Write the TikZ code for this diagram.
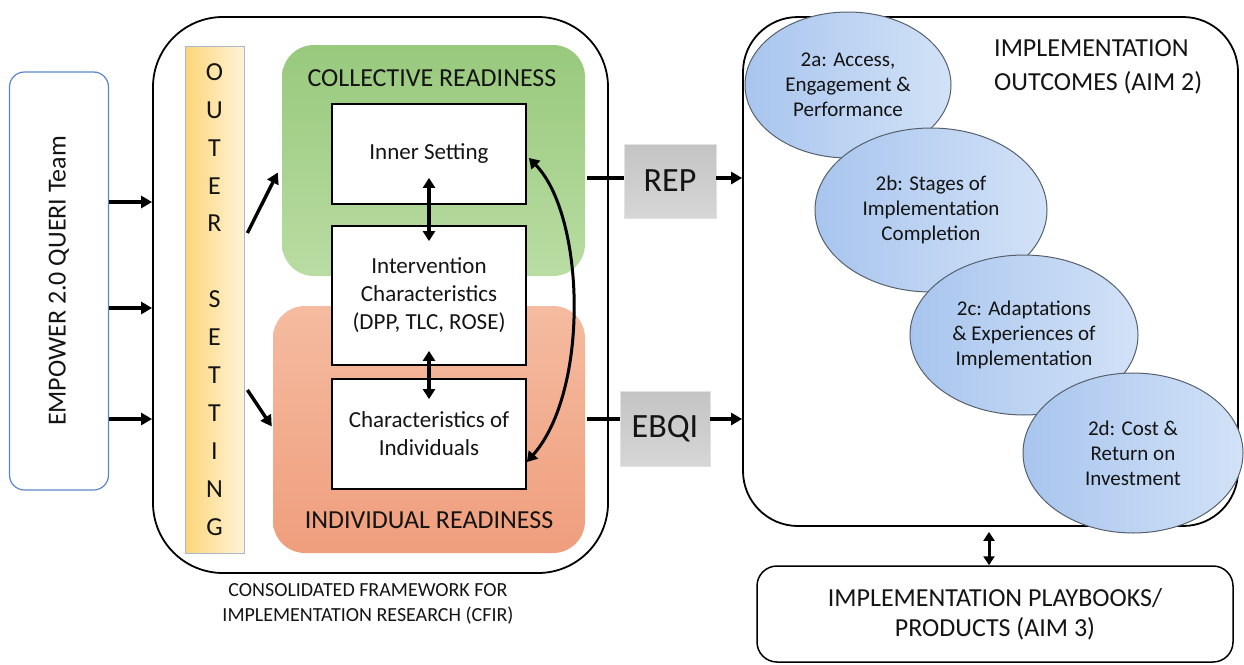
\documentclass[tikz,border=0pt]{standalone}
\usepackage{fontspec}
\setmainfont{Carlito}
\usetikzlibrary{arrows.meta,calc,shapes.geometric}
\definecolor{txt}{HTML}{141414}
\definecolor{empblue}{HTML}{5A86C8}
\definecolor{barA}{HTML}{FDD578}
\definecolor{barB}{HTML}{FEF3D8}
\definecolor{barline}{HTML}{A9B7CC}
\definecolor{grA}{HTML}{98C97C}
\definecolor{grB}{HTML}{B9DCA3}
\definecolor{orA}{HTML}{F5BBA0}
\definecolor{orB}{HTML}{EF9E7D}
\definecolor{elA}{HTML}{A8C5EE}
\definecolor{elB}{HTML}{D2E2F7}
\definecolor{elline}{HTML}{56606C}
\definecolor{gyA}{HTML}{C4C4C4}
\definecolor{gyB}{HTML}{D6D6D6}
\begin{document}
\begin{tikzpicture}[x=1pt,y=-1pt,
  every node/.style={text=txt},
  arr/.style={line width=3.4pt,-{Triangle[length=11pt,width=12pt]}},
  darr/.style={line width=3.4pt,{Triangle[length=10pt,width=12pt]}-{Triangle[length=10pt,width=12pt]}},
  plainline/.style={line width=3.4pt},
  innerbox/.style={draw=black,line width=1.8pt,fill=white,minimum width=194pt,inner sep=0pt,align=center,font=\fontsize{23}{28}\selectfont},
  ell/.style={ellipse,draw=elline,line width=1pt,left color=elA,right color=elB,align=center,inner sep=0pt,font=\fontsize{21}{25}\selectfont},
  graybox/.style={draw=gyA!80!black!30,line width=0.8pt,top color=gyA,bottom color=gyB,inner sep=0pt,font=\fontsize{34}{40}\selectfont},
  bigbox/.style={draw=black,line width=1.8pt,inner sep=0pt},
  letter/.style={font=\fontsize{26}{30}\selectfont,inner sep=0pt}
]
\useasboundingbox (0,0) rectangle (1244,664);

% EMPOWER box
\node[draw=empblue,line width=1.2pt,rounded corners=15pt,minimum width=99pt,minimum height=418pt,inner sep=0pt] (emp) at (59,281) {};
\node[rotate=90,font=\fontsize{26}{30}\selectfont] (emptxt) at (emp.center) {EMPOWER 2.0 QUERI Team};

% CFIR box
\node[bigbox,rounded corners=70pt,minimum width=455pt,minimum height=556pt] (cfir) at (380.5,295) {};
\node[align=center,font=\fontsize{20}{25}\selectfont] (cfirtxt) at (368,604) {CONSOLIDATED FRAMEWORK FOR\\IMPLEMENTATION RESEARCH (CFIR)};

% outer setting bar
\node[draw=barline,line width=0.8pt,left color=barA,right color=barB,minimum width=59pt,minimum height=507pt,inner sep=0pt] (bar) at (214.5,299.5) {};
\foreach \l/\k in {O/0,U/1,T/2,E/3,R/4,S/6,E/7,T/8,T/9,I/10,N/11,G/12}{
  \node[letter] (os\k) at (214.5,{72+37.9*\k}) {\l};
}

% readiness boxes
\node[rounded corners=32pt,top color=grA,bottom color=grB,minimum width=303pt,minimum height=231pt,inner sep=0pt] (green) at (433.5,160.5) {};
\node[rounded corners=32pt,top color=orA,bottom color=orB,minimum width=312pt,minimum height=247pt,inner sep=0pt] (orange) at (429,429.5) {};
\node[font=\fontsize{26}{30}\selectfont] (coltxt) at (432,78) {COLLECTIVE READINESS};
\node[font=\fontsize{26}{30}\selectfont] (indtxt) at (429,520) {INDIVIDUAL READINESS};

% inner boxes
\node[innerbox,minimum height=100pt] (inner) at (429,154) {Inner Setting};
\node[innerbox,minimum height=139pt] (interv) at (429,295.5) {Intervention\\Characteristics\\(DPP, TLC, ROSE)};
\node[innerbox,minimum height=110pt] (indiv) at (429,434) {Characteristics of\\Individuals};

% arrows inside CFIR
\draw[darr] ($(inner.south)+(0,-27)$) -- ($(interv.north)+(0,16)$);
\draw[darr] ($(interv.south)+(0,-15)$) -- ($(indiv.north)+(0,21)$);
\coordinate (cA) at ($(inner.east)+(2,4)$);
\coordinate (cB) at ($(indiv.east)+(0,28)$);
\draw[darr,line width=3pt] (cA) .. controls (585,215) and (590,390) .. (cB);

% outer setting to readiness
\coordinate (o1) at ($(bar.east)+(3,-66.5)$);
\coordinate (g1) at ($(green.west)+(-4,12)$);
\draw[arr] (o1) -- (g1);
\coordinate (o2) at ($(bar.east)+(3,90.5)$);
\coordinate (r2) at ($(orange.west)+(-1,-3)$);
\draw[arr] (o2) -- (r2);

% empower arrows
\coordinate (y1) at (0,202);
\coordinate (y2) at (0,308);
\coordinate (y3) at (0,419);
\draw[arr] (emp.east |- y1) -- (cfir.west |- y1);
\draw[arr] (emp.east |- y2) -- (cfir.west |- y2);
\draw[arr] (emp.east |- y3) -- (cfir.west |- y3);

% outcomes box
\node[bigbox,rounded corners=55pt,minimum width=495pt,minimum height=509pt] (outc) at (990.5,271.5) {};
\node[anchor=west,align=left,font=\fontsize{26}{34}\selectfont,inner sep=0pt] (outtxt) at (994,67) {IMPLEMENTATION\\OUTCOMES (AIM 2)};

% REP / EBQI
\node[graybox,minimum width=92pt,minimum height=74pt] (rep) at (670,181) {REP};
\node[graybox,minimum width=90pt,minimum height=75pt] (ebqi) at (665,428.5) {EBQI};
\coordinate (ry) at (587,178);
\coordinate (ey) at (587,419);
\draw[plainline] (ry) -- (rep.west |- ry);
\draw[arr] (rep.east |- ry) -- (outc.west |- ry);
\draw[plainline] (ey) -- (ebqi.west |- ey);
\draw[arr] (ebqi.east |- ey) -- (outc.west |- ey);

% ellipses
\node[ell,minimum width=206pt,minimum height=146pt] (e2a) at (848,85) {2a: Access,\\Engagement \&\\Performance};
\node[ell,minimum width=232pt,minimum height=164pt] (e2b) at (931,210) {2b: Stages of\\Implementation\\Completion};
\node[ell,minimum width=228pt,minimum height=160pt] (e2c) at (1024,335) {2c: Adaptations\\\& Experiences of\\Implementation};
\node[ell,minimum width=220pt,minimum height=160pt] (e2d) at (1133,453) {2d: Cost \&\\Return on\\Investment};

% playbooks
\node[draw=black,line width=1.5pt,rounded corners=20pt,minimum width=476pt,minimum height=96pt,inner sep=0pt,align=center,font=\fontsize{26}{30}\selectfont] (play) at (995,614) {IMPLEMENTATION PLAYBOOKS/\\PRODUCTS (AIM 3)};
\draw[line width=3pt,{Triangle[length=9pt,width=11pt]}-{Triangle[length=9pt,width=11pt]}] ($(outc.south)+(-1.5,5)$) -- ($(outc.south |- play.north)+(-1.5,0)$);
\end{tikzpicture}
\end{document}
